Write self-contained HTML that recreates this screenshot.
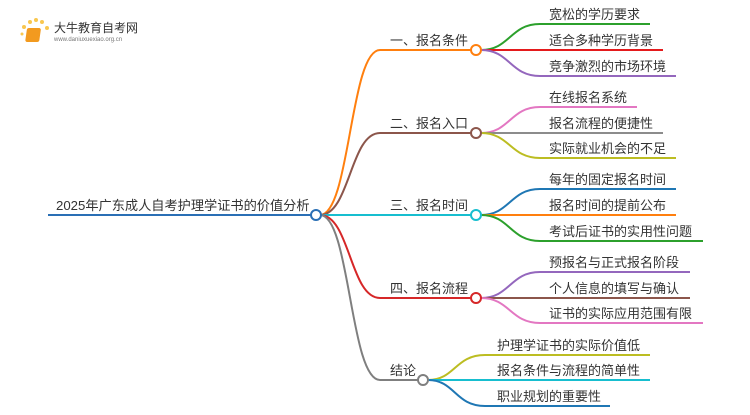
<!DOCTYPE html>
<html><head><meta charset="utf-8"><style>
body{margin:0;background:#fff;width:750px;height:410px;overflow:hidden}
svg text{font-family:"Liberation Sans","Noto Sans CJK SC",sans-serif;fill:#333}
</style></head><body>
<svg width="750" height="410" viewBox="0 0 750 410" xmlns="http://www.w3.org/2000/svg">
<g fill="none" stroke-width="2">
<line x1="48" y1="215" x2="312" y2="215" stroke="#2a6fb5"/>
<path d="M320 215 C350 215,350 50,380 50 L471 50" stroke="#ff7f0e"/>
<path d="M320 215 C350 215,350 133,380 133 L471 133" stroke="#8c564b"/>
<path d="M320 215 L471 215" stroke="#17becf"/>
<path d="M320 215 C350 215,350 298,380 298 L471 298" stroke="#d62728"/>
<path d="M320 215 C350 215,350 380,380 380 L418 380" stroke="#7f7f7f"/>
<path d="M481 50 C510 50,510 24,540 24 L650 24" stroke="#2ca02c"/>
<path d="M481 50 L663 50" stroke="#e41a1c"/>
<path d="M481 50 C510 50,510 76,540 76 L676 76" stroke="#9467bd"/>
<path d="M481 133 C510 133,510 107,540 107 L637 107" stroke="#e377c2"/>
<path d="M481 133 L663 133" stroke="#8c8c8c"/>
<path d="M481 133 C510 133,510 158,540 158 L676 158" stroke="#bcbd22"/>
<path d="M481 215 C510 215,510 189,540 189 L676 189" stroke="#1f77b4"/>
<path d="M481 215 L676 215" stroke="#ff7f0e"/>
<path d="M481 215 C510 215,510 241,540 241 L703 241" stroke="#2ca02c"/>
<path d="M481 298 C510 298,510 272,540 272 L690 272" stroke="#9467bd"/>
<path d="M481 298 L690 298" stroke="#8c564b"/>
<path d="M481 298 C510 298,510 323,540 323 L703 323" stroke="#e377c2"/>
<path d="M428 380 C455 380,455 355,485 355 L650 355" stroke="#bcbd22"/>
<path d="M428 380 L650 380" stroke="#17becf"/>
<path d="M428 380 C455 380,455 406,485 406 L610 406" stroke="#1f77b4"/>
<circle cx="316" cy="215" r="5" fill="#fff" stroke="#2a6fb5"/>
<circle cx="476" cy="50" r="5" fill="#fff" stroke="#ff7f0e"/>
<circle cx="476" cy="133" r="5" fill="#fff" stroke="#8c564b"/>
<circle cx="476" cy="215" r="5" fill="#fff" stroke="#17becf"/>
<circle cx="476" cy="298" r="5" fill="#fff" stroke="#d62728"/>
<circle cx="423" cy="380" r="5" fill="#fff" stroke="#7f7f7f"/>
</g>
<g font-size="13">
<text x="56" y="210" font-size="13.2">2025年广东成人自考护理学证书的价值分析</text>
<text x="390" y="45">一、报名条件</text>
<text x="390" y="128">二、报名入口</text>
<text x="390" y="210">三、报名时间</text>
<text x="390" y="293">四、报名流程</text>
<text x="390" y="375">结论</text>
<text x="549" y="19">宽松的学历要求</text>
<text x="549" y="45">适合多种学历背景</text>
<text x="549" y="71">竞争激烈的市场环境</text>
<text x="549" y="102">在线报名系统</text>
<text x="549" y="128">报名流程的便捷性</text>
<text x="549" y="153">实际就业机会的不足</text>
<text x="549" y="184">每年的固定报名时间</text>
<text x="549" y="210">报名时间的提前公布</text>
<text x="549" y="236">考试后证书的实用性问题</text>
<text x="549" y="267">预报名与正式报名阶段</text>
<text x="549" y="293">个人信息的填写与确认</text>
<text x="549" y="318">证书的实际应用范围有限</text>
<text x="497" y="350">护理学证书的实际价值低</text>
<text x="497" y="375">报名条件与流程的简单性</text>
<text x="497" y="401">职业规划的重要性</text>
</g>
<g>
<circle cx="30" cy="22" r="2" fill="#f9c74f"/><circle cx="36" cy="20" r="2" fill="#f9c74f"/><circle cx="42" cy="22" r="2" fill="#f9c74f"/><circle cx="24" cy="27" r="2" fill="#f9c74f"/><circle cx="47" cy="28" r="2" fill="#f9c74f"/><circle cx="22" cy="34" r="1.5" fill="#f9c74f"/>
<rect x="31" y="28" width="14" height="14" rx="2" fill="#f29a1f" transform="skewX(-8)"/>
<text x="54" y="32" font-size="12" style="fill:#333">大牛教育自考网</text>
<text x="54" y="41" font-size="6" style="fill:#777">www.daniuxuexiao.org.cn</text>
</g>
</svg>
</body></html>
